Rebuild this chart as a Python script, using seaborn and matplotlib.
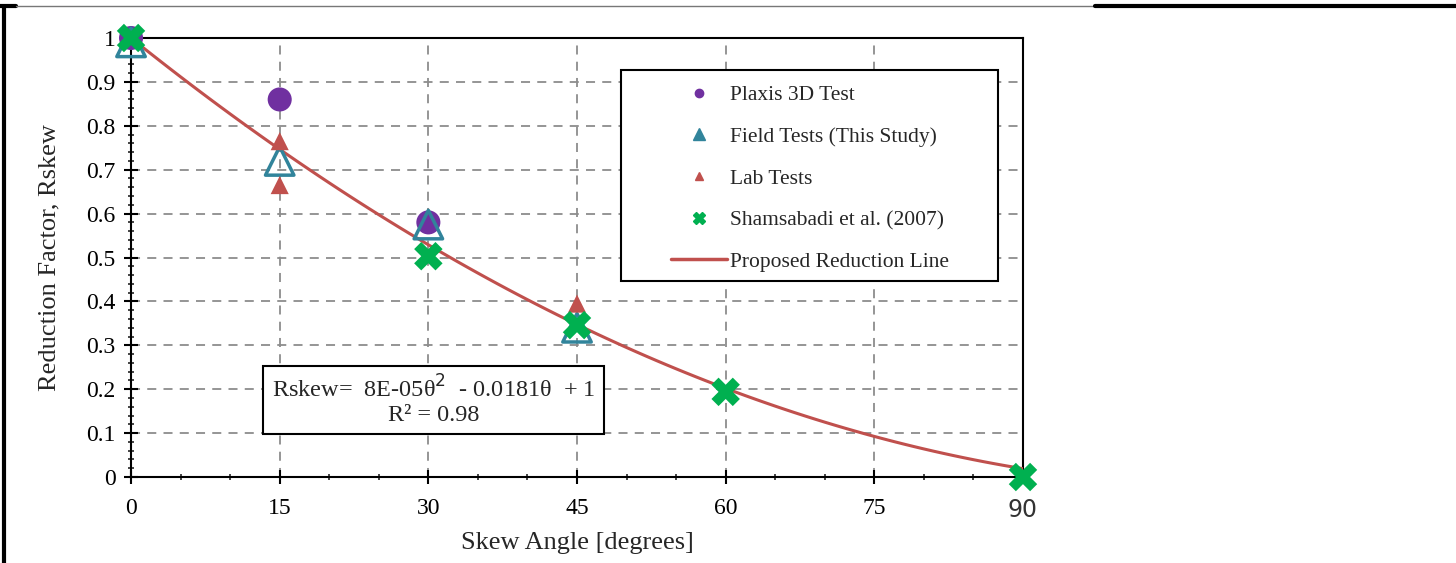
import numpy as np
import pandas as pd
import matplotlib.pyplot as plt
from matplotlib.lines import Line2D
from matplotlib.patches import Rectangle
from matplotlib.ticker import MultipleLocator, FuncFormatter
import seaborn as sns

# data
plaxis_x = [0, 15, 30]
plaxis_y = [1.0, 0.86, 0.58]

field_x = [0, 15, 30, 45]
field_y = [0.99, 0.72, 0.575, 0.34]

lab_x = [15, 15, 45]
lab_y = [0.765, 0.665, 0.395]

sham_x = [0, 30, 45, 60, 90]
sham_y = [1.0, 0.503, 0.346, 0.194, 0.0]

# proposed reduction line coefficients (from the chart)
coef_a, coef_b, coef_c = 8e-05, -0.0181, 1.0
theta = np.arange(0, 91, 1)
fit_df = pd.DataFrame({"theta": theta, "r": coef_a * theta**2 + coef_b * theta + coef_c})

purple = "#7030A0"
teal = "#31849B"
red = "#C0504D"
green = "#00B050"

sns.set_style("white")
plt.rcParams["font.family"] = ["Liberation Serif", "DejaVu Serif"]

fig = plt.figure(figsize=(14.56, 5.63), dpi=100)
ax = fig.add_axes([0.09, 0.1527, 0.6126, 0.7798])

sns.lineplot(data=fit_df, x="theta", y="r", color=red, lw=2.2, ax=ax, zorder=3)
sns.scatterplot(x=plaxis_x, y=plaxis_y, color=purple, s=300, marker="o", edgecolor="none",
                ax=ax, zorder=4, clip_on=False)
sns.scatterplot(x=field_x, y=field_y, marker="^", s=420, facecolor="none", edgecolor=teal,
                linewidth=2.5, ax=ax, zorder=5, clip_on=False)
sns.scatterplot(x=lab_x, y=lab_y, color=red, marker="^", s=170, edgecolor="none", ax=ax,
                zorder=6, clip_on=False)
sns.scatterplot(x=sham_x, y=sham_y, color=green, marker="X", s=420, edgecolor="none", ax=ax,
                zorder=7, clip_on=False)

ax.set_xlim(0, 90)
ax.set_ylim(0, 1)
ax.xaxis.set_major_locator(MultipleLocator(15))
ax.xaxis.set_minor_locator(MultipleLocator(5))
ax.yaxis.set_major_locator(MultipleLocator(0.1))
ax.yaxis.set_minor_locator(MultipleLocator(0.02))
ax.yaxis.set_major_formatter(FuncFormatter(lambda v, p: f"{v:.1f}" if 0.05 < v < 0.95 else f"{v:.0f}"))
ax.tick_params(axis="both", which="major", direction="inout", length=10, width=1.5,
               labelsize=17, colors="black", pad=6)
ax.tick_params(axis="x", which="major", pad=10)
ax.tick_params(axis="both", which="minor", direction="inout", length=5, width=1.2)
ax.tick_params(axis="x", which="both", bottom=True)
ax.tick_params(axis="y", which="both", left=True)
ax.grid(True, which="major", ls=(0, (5, 4)), color="#8c8c8c", lw=1.3)
for sp in ax.spines.values():
    sp.set_color("black")
    sp.set_linewidth(1.5)
    sp.set_visible(True)

ax.set_xlabel("Skew Angle [degrees]", fontsize=19, labelpad=7)
ax.set_ylabel("Reduction Factor, Rskew", fontsize=19, labelpad=19)

fig.canvas.draw()
for lab in ax.get_xticklabels():
    if lab.get_text() == "90":
        lab.set_fontfamily("DejaVu Sans")
        lab.set_color("#333333")

handles = [
    Line2D([], [], ls="none", marker="o", color=purple, markersize=6),
    Line2D([], [], ls="none", marker="^", color=teal, markersize=8),
    Line2D([], [], ls="none", marker="^", color=red, markersize=6),
    Line2D([], [], ls="none", marker="X", color=green, markersize=8),
    Line2D([], [], color=red, lw=2.5),
]
labels = ["Plaxis 3D Test", "Field Tests (This Study)", "Lab Tests",
          "Shamsabadi et al. (2007)", "Proposed Reduction Line"]
leg = ax.legend(handles, labels, loc="upper left", bbox_to_anchor=(0.5735, 0.956),
                fontsize=15.5, frameon=False,
                labelspacing=1.0, handlelength=2.6, borderpad=0.8, handletextpad=0.15)
leg.set_zorder(11)
ax.add_patch(Rectangle((0.549, 0.446), 0.423, 0.481, transform=ax.transAxes,
                       fc="white", ec="black", lw=1.5, zorder=10))

ax.text(0.339, 0.175, "Rskew=  8E-05\u03b8$^2$  - 0.0181\u03b8  + 1\nR\u00b2 = 0.98",
        transform=ax.transAxes, ha="center", va="center", fontsize=17.5, linespacing=1.15,
        bbox=dict(boxstyle="square,pad=0.35", fc="white", ec="black", lw=1.5), zorder=10)

# screenshot frame edges
fig.add_artist(Line2D([0.003, 0.003], [0, 0.99], transform=fig.transFigure, color="black", lw=3))
fig.add_artist(Line2D([0, 0.011], [0.99, 0.99], transform=fig.transFigure, color="black", lw=3))
fig.add_artist(Line2D([0.011, 0.752], [0.99, 0.99], transform=fig.transFigure, color="#777777", lw=1))
fig.add_artist(Line2D([0.752, 1], [0.99, 0.99], transform=fig.transFigure, color="black", lw=3))

fig.savefig("out.png", dpi=100)
